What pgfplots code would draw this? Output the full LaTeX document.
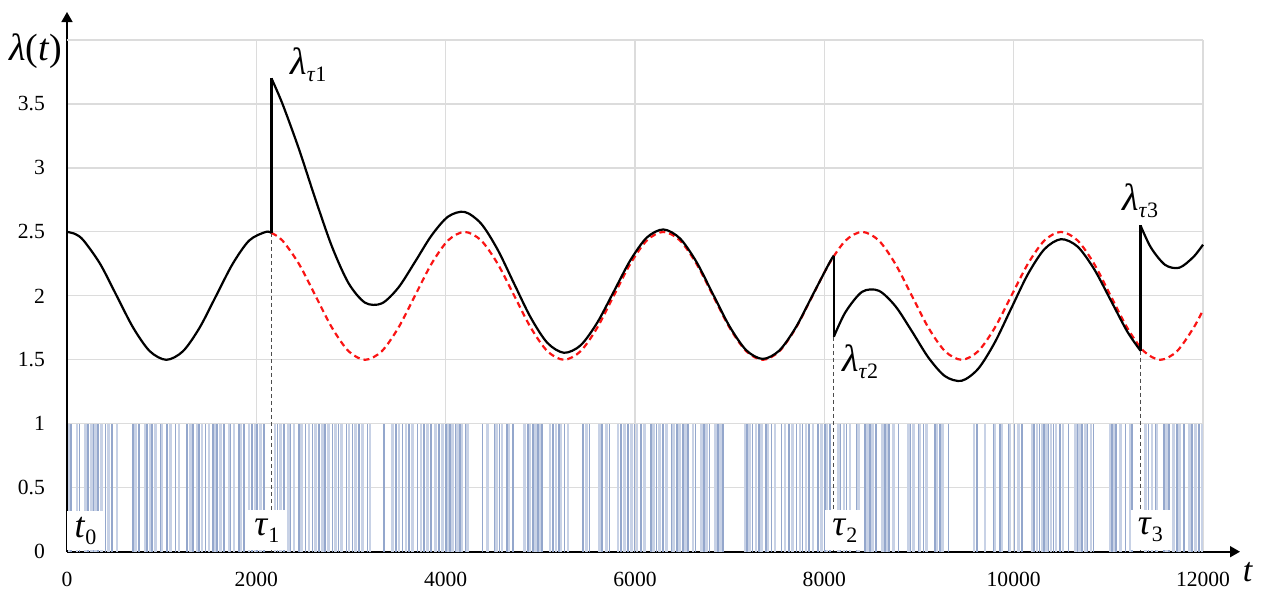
\documentclass[border=0pt]{standalone}
\usepackage{fontspec}
\setmainfont{Liberation Serif}
\usepackage{pgfplots}
\pgfplotsset{compat=1.18}
\usetikzlibrary{arrows.meta}
\definecolor{barlight}{RGB}{200,210,230}
\definecolor{bardark}{RGB}{148,167,204}
\definecolor{gridc}{RGB}{220,220,220}
\definecolor{redc}{RGB}{250,20,20}
\newcommand{\sub}[1]{\raisebox{-3.5pt}{\fontsize{11}{11}\selectfont #1}}
\begin{document}
\begin{tikzpicture}
\begin{axis}[name=ax, scale only axis, width=568pt, height=255.85pt,
  xmin=0, xmax=12000, ymin=0, ymax=4,
  axis lines=left,
  x axis line style={-{Triangle[length=5pt,width=5.5pt]}, shorten >=-18.5pt, line width=0.8pt},
  y axis line style={-{Triangle[length=5pt,width=5.5pt]}, shorten >=-14pt, line width=0.8pt},
  xtick={0,2000,4000,6000,8000,10000,12000},
  ytick={0,0.5,1,1.5,2,2.5,3,3.5},
  scaled x ticks=false, scaled y ticks=false,
  extra y ticks={4}, extra y tick labels={},
  extra tick style={grid=major, major grid style={gridc, line width=0.6pt}, major tick length=0pt},
  grid=major, major grid style={gridc, line width=0.6pt},
  major tick length=0pt,
  clip=false,
  /pgf/number format/assume math mode=true,
  /pgf/number format/1000 sep={},
  xticklabel style={font=\fontsize{10.8}{12}\selectfont, yshift=-6.5pt},
  yticklabel style={font=\fontsize{10.8}{12}\selectfont, xshift=-7.5pt},
]
% events (light)
\addplot[ycomb, no markers, barlight, line width=1.3pt] coordinates {
(25,1)(106,1)(194,1)(257,1)(300,1)(363,1)(441,1)(529,1)(723,1)(822,1)(882,1)(935,1)(1005,1)(1093,1)(1181,1)(1305,1)(1375,1)(1428,1)(1499,1)(1562,1)(1622,1)(1710,1)(1763,1)(1834,1)(1922,1)(1993,1)(2045,1)(2197,1)(2257,1)(2338,1)(2398,1)(2479,1)(2557,1)(2627,1)(2698,1)(2761,1)(2839,1)(2902,1)(2980,1)(3050,1)(3121,1)(3199,1)(3438,1)(3509,1)(3579,1)(3650,1)(3738,1)(3809,1)(3890,1)(3967,1)(4021,1)(4074,1)(4127,1)(4173,1)(4233,1)(4444,1)(4539,1)(4596,1)(4666,1)(4832,1)(4892,1)(4949,1)(4998,1)(5104,1)(5167,1)(5220,1)(5291,1)(5485,1)(5626,1)(5696,1)(5820,1)(5890,1)(5961,1)(6020,1)(6101,1)(6197,1)(6260,1)(6331,1)(6408,1)(6472,1)(6535,1)(6613,1)(6701,1)(6754,1)(6853,1)(6902,1)(7160,1)(7212,1)(7276,1)(7336,1)(7406,1)(7477,1)(7583,1)(7664,1)(7742,1)(7805,1)(7882,1)(7971,1)(8023,1)(8147,1)(8207,1)(8270,1)(8358,1)(8454,1)(8510,1)(8616,1)(8665,1)(8729,1)(8887,1)(8940,1)(9011,1)(9081,1)(9187,1)(9251,1)(9582,1)(9699,1)(9804,1)(9875,1)(9963,1)(10051,1)(10192,1)(10245,1)(10298,1)(10344,1)(10393,1)(10449,1)(10520,1)(10650,1)(10696,1)(10756,1)(10816,1)(11021,1)(11056,1)(11127,1)(11232,1)(11391,1)(11462,1)(11515,1)(11613,1)(11691,1)(11754,1)(11860,1)(11920,1)(11991,1)
};
% events (dark)
\addplot[ycomb, no markers, bardark, line width=0.8pt] coordinates {
(45,1)(130,1)(222,1)(282,1)(328,1)(406,1)(476,1)(695,1)(758,1)(846,1)(900,1)(988,1)(1058,1)(1146,1)(1270,1)(1330,1)(1393,1)(1464,1)(1541,1)(1587,1)(1657,1)(1728,1)(1816,1)(1869,1)(1957,1)(2010,1)(2080,1)(2222,1)(2292,1)(2363,1)(2451,1)(2521,1)(2592,1)(2662,1)(2726,1)(2803,1)(2867,1)(2952,1)(3015,1)(3086,1)(3174,1)(3350,1)(3474,1)(3544,1)(3615,1)(3703,1)(3773,1)(3844,1)(3932,1)(4003,1)(4046,1)(4102,1)(4151,1)(4208,1)(4391,1)(4515,1)(4568,1)(4645,1)(4709,1)(4867,1)(4920,1)(4973,1)(5019,1)(5132,1)(5195,1)(5255,1)(5449,1)(5520,1)(5654,1)(5732,1)(5855,1)(5926,1)(5996,1)(6066,1)(6172,1)(6225,1)(6295,1)(6384,1)(6444,1)(6507,1)(6560,1)(6641,1)(6726,1)(6789,1)(6877,1)(6930,1)(7184,1)(7241,1)(7311,1)(7382,1)(7442,1)(7547,1)(7629,1)(7706,1)(7770,1)(7840,1)(7935,1)(8006,1)(8059,1)(8171,1)(8235,1)(8341,1)(8429,1)(8482,1)(8545,1)(8641,1)(8686,1)(8782,1)(8912,1)(8993,1)(9046,1)(9170,1)(9223,1)(9311,1)(9610,1)(9787,1)(9857,1)(9946,1)(10009,1)(10086,1)(10217,1)(10273,1)(10322,1)(10368,1)(10421,1)(10492,1)(10580,1)(10675,1)(10721,1)(10781,1)(10844,1)(11038,1)(11084,1)(11180,1)(11250,1)(11426,1)(11497,1)(11585,1)(11638,1)(11726,1)(11797,1)(11885,1)(11955,1)
};
% dashed drop lines
\addplot[no markers, gray!60!black, line width=0.5pt, dash pattern=on 2pt off 1.5pt] coordinates {(2160,2.492)(2160,0)};
\addplot[no markers, gray!60!black, line width=0.5pt, dash pattern=on 2pt off 1.5pt] coordinates {(8100,1.68)(8100,0)};
\addplot[no markers, gray!60!black, line width=0.5pt, dash pattern=on 2pt off 1.5pt] coordinates {(11340,1.571)(11340,0)};
% base intensity (red dashed)
\addplot[no markers, redc, line width=1.1pt, dash pattern=on 3pt off 2pt, smooth] coordinates {
(2160,2.492)(2275,2.433)(2450,2.25)(2625,2.0)(2800,1.75)(2975,1.567)(3150,1.5)(3325,1.567)(3500,1.75)(3675,2.0)(3850,2.25)(4025,2.433)(4200,2.5)(4375,2.433)(4550,2.25)(4725,2.0)(4900,1.75)(5075,1.567)(5250,1.5)(5425,1.567)(5600,1.75)(5775,2.0)(5950,2.25)(6125,2.433)(6300,2.5)(6475,2.433)(6650,2.25)(6825,2.0)(7000,1.75)(7175,1.567)(7350,1.5)(7525,1.567)(7700,1.75)(7875,2.0)(8050,2.25)(8225,2.433)(8400,2.5)(8575,2.433)(8750,2.25)(8925,2.0)(9100,1.75)(9275,1.567)(9450,1.5)(9625,1.567)(9800,1.75)(9975,2.0)(10150,2.25)(10325,2.433)(10500,2.5)(10675,2.433)(10850,2.25)(11025,2.0)(11200,1.75)(11375,1.567)(11550,1.5)(11725,1.567)(11900,1.75)(12000,1.888)
};
% intensity (black), segments between jumps
\addplot[no markers, black, line width=1.1pt, smooth] coordinates {
(0,2.5)(88,2.483)(175,2.433)(350,2.25)(525,2.0)(700,1.75)(875,1.567)(1050,1.5)(1225,1.567)(1400,1.75)(1575,2.0)(1750,2.25)(1925,2.433)(2100,2.5)(2160,2.492)
};
\addplot[no markers, black, line width=1.1pt] coordinates {(2160,2.492)(2160,3.7)};
\addplot[no markers, black, line width=1.1pt, smooth] coordinates {
(2160,3.7)(2275,3.503)(2450,3.148)(2625,2.754)(2800,2.383)(2975,2.098)(3150,1.946)(3325,1.941)(3500,2.064)(3675,2.264)(3850,2.471)(4025,2.619)(4200,2.656)(4375,2.564)(4550,2.360)(4725,2.092)(4900,1.828)(5075,1.632)(5250,1.555)(5425,1.613)(5600,1.789)(5775,2.032)(5950,2.277)(6125,2.456)(6300,2.519)(6475,2.449)(6650,2.264)(6825,2.011)(7000,1.760)(7175,1.575)(7350,1.507)(7525,1.573)(7700,1.755)(7875,2.004)(8050,2.253)(8100,2.315)
};
\addplot[no markers, black, line width=1.1pt] coordinates {(8100,2.315)(8100,1.68)};
\addplot[no markers, black, line width=1.1pt, smooth] coordinates {
(8100,1.68)(8225,1.875)(8400,2.032)(8575,2.040)(8750,1.920)(8925,1.723)(9100,1.517)(9275,1.372)(9450,1.336)(9625,1.430)(9800,1.635)(9975,1.903)(10150,2.169)(10325,2.365)(10500,2.443)(10675,2.385)(10850,2.209)(11025,1.966)(11200,1.721)(11340,1.571)
};
\addplot[no markers, black, line width=1.1pt] coordinates {(11340,1.571)(11340,2.55)};
\addplot[no markers, black, line width=1.1pt, smooth] coordinates {
(11340,2.55)(11450,2.377)(11600,2.242)(11750,2.220)(11900,2.305)(12000,2.40)
};
% labels
\node[font=\fontsize{19}{21}\selectfont] at (axis cs:-327,3.915) {\textit{λ}(\textit{t})};
\node[font=\fontsize{19}{21}\selectfont, anchor=base west, inner sep=0pt] at (axis cs:2356,3.727) {\textit{λ}\sub{\textit{τ}1}};
\node[font=\fontsize{19}{21}\selectfont, anchor=base west, inner sep=0pt] at (axis cs:8183,1.407) {\textit{λ}\sub{\textit{τ}2}};
\node[font=\fontsize{19}{21}\selectfont, anchor=base west, inner sep=0pt] at (axis cs:11141,2.666) {\textit{λ}\sub{\textit{τ}3}};
\node[font=\fontsize{17}{19}\selectfont, anchor=base, inner sep=0pt] at (axis cs:12475,-0.235) {\textit{t}};
\node[fill=white, anchor=south, minimum width=18pt, minimum height=19.5pt, inner sep=1pt, yshift=0.5pt, font=\fontsize{18}{20}\selectfont] at (axis cs:195,0) {\textit{t}\sub{0}};
\node[fill=white, anchor=south, minimum width=19.5pt, minimum height=20pt, inner sep=1pt, yshift=0.5pt, font=\fontsize{18}{20}\selectfont] at (axis cs:2111,0) {\textit{τ}\sub{1}};
\node[fill=white, anchor=south, minimum width=19.5pt, minimum height=20pt, inner sep=1pt, yshift=0.5pt, font=\fontsize{18}{20}\selectfont] at (axis cs:8217,0) {\textit{τ}\sub{2}};
\node[fill=white, anchor=south, minimum width=19.5pt, minimum height=20pt, inner sep=1pt, yshift=0.5pt, font=\fontsize{18}{20}\selectfont] at (axis cs:11444,0) {\textit{τ}\sub{3}};
\end{axis}
\pgfresetboundingbox
\path[use as bounding box] ([shift={(-33.5pt,-18.65pt)}]ax.south west) rectangle ([shift={(35pt,20pt)}]ax.north east);
\end{tikzpicture}
\end{document}
